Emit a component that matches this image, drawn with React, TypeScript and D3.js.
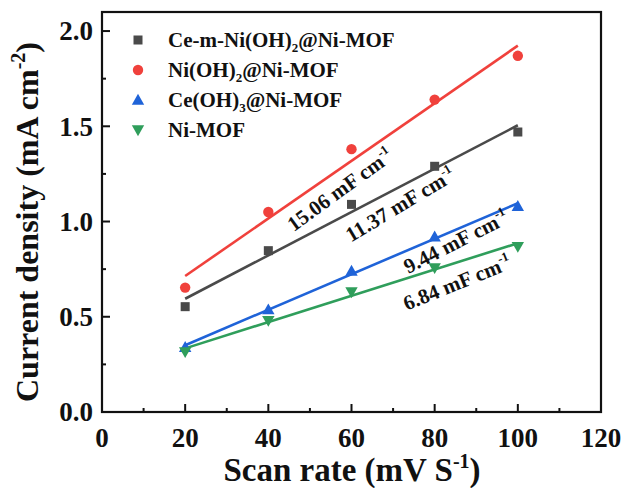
import React from "react";
import * as d3 from "d3";

const scanRates = [20, 40, 60, 80, 100];
const ceNiValues = [0.553, 0.847, 1.09, 1.29, 1.47];
const niOHValues = [0.653, 1.05, 1.38, 1.64, 1.87];
const ceOHValues = [0.34, 0.537, 0.74, 0.92, 1.08];
const niMofValues = [0.316, 0.48, 0.63, 0.757, 0.868];

const xTicks = [0, 20, 40, 60, 80, 100, 120];
const xMinor = [10, 30, 50, 70, 90, 110];
const yTicks = [0, 0.5, 1.0, 1.5, 2.0];
const yMinor = [0.25, 0.75, 1.25, 1.75];

const seriesDefs = [
  { key: "ceNi", name: ["Ce-m-Ni(OH)", "2", "@Ni-MOF"], values: ceNiValues, color: "#4a4a4a", marker: "square" },
  { key: "niOH", name: ["Ni(OH)", "2", "@Ni-MOF"], values: niOHValues, color: "#f0413c", marker: "circle" },
  { key: "ceOH", name: ["Ce(OH)", "3", "@Ni-MOF"], values: ceOHValues, color: "#1f63d8", marker: "triangle" },
  { key: "niMof", name: ["Ni-MOF", "", ""], values: niMofValues, color: "#2f9e5b", marker: "down" },
];

const annotations = [
  { text: "15.06", x: 57.2, y: 1.168, angle: -36 },
  { text: "11.37", x: 71.7, y: 1.09, angle: -31 },
  { text: "9.44", x: 85.1, y: 0.895, angle: -27 },
  { text: "6.84", x: 85.4, y: 0.68, angle: -22 },
];

function fit(xs: number[], ys: number[]) {
  const mx = d3.mean(xs)!;
  const my = d3.mean(ys)!;
  let sxy = 0, sxx = 0;
  xs.forEach((x, i) => { sxy += (x - mx) * (ys[i] - my); sxx += (x - mx) ** 2; });
  const slope = sxy / sxx;
  return { slope, intercept: my - slope * mx };
}

function Marker({ type, cx, cy, color }: { type: string; cx: number; cy: number; color: string }) {
  if (type === "square") return <rect x={cx - 4.5} y={cy - 4.5} width={9} height={9} fill={color} />;
  if (type === "circle") return <circle cx={cx} cy={cy} r={5.2} fill={color} />;
  const s = 6.2;
  if (type === "triangle")
    return <path d={`M${cx},${cy - s} L${cx + s},${cy + s * 0.75} L${cx - s},${cy + s * 0.75} Z`} fill={color} />;
  return <path d={`M${cx},${cy + s} L${cx + s},${cy - s * 0.75} L${cx - s},${cy - s * 0.75} Z`} fill={color} />;
}

export default function App() {
  const W = 627, H = 488;
  const x = d3.scaleLinear().domain([0, 120]).range([102, 601]);
  const y = d3.scaleLinear().domain([0, 2.1]).range([412, 12]);
  const font = "'Liberation Serif', 'Times New Roman', serif";
  const line = d3.line<[number, number]>().x((d) => x(d[0])).y((d) => y(d[1]));

  return (
    <svg width={W} height={H} style={{ position: "absolute", left: 0, top: 0 }} fontFamily={font} fontWeight="bold">
      <rect width={W} height={H} fill="#fff" />
      {/* fit lines */}
      {seriesDefs.map((s) => {
        const f = fit(scanRates, s.values);
        const x0 = scanRates[0], x1 = scanRates[scanRates.length - 1];
        return (
          <path key={s.key + "l"} d={line([[x0, f.intercept + f.slope * x0], [x1, f.intercept + f.slope * x1]])!}
            stroke={s.color} strokeWidth={2.6} fill="none" />
        );
      })}
      {/* markers */}
      {seriesDefs.map((s) =>
        s.values.map((v, i) => <Marker key={s.key + i} type={s.marker} cx={x(scanRates[i])} cy={y(v)} color={s.color} />)
      )}
      {/* frame */}
      <rect x={x(0)} y={y(2.1)} width={x(120) - x(0)} height={y(0) - y(2.1)} fill="none" stroke="#111" strokeWidth={2.2} />
      {/* x ticks */}
      {xTicks.map((t) => (
        <g key={"xt" + t}>
          <line x1={x(t)} x2={x(t)} y1={y(0)} y2={y(0) - 8} stroke="#111" strokeWidth={2} />
          <text x={x(t)} y={447} textAnchor="middle" fontSize={27} fill="#111">{t}</text>
        </g>
      ))}
      {xMinor.map((t) => (
        <line key={"xm" + t} x1={x(t)} x2={x(t)} y1={y(0)} y2={y(0) - 4} stroke="#111" strokeWidth={2} />
      ))}
      {yTicks.map((t) => (
        <g key={"yt" + t}>
          <line x1={x(0)} x2={x(0) + 8} y1={y(t)} y2={y(t)} stroke="#111" strokeWidth={2} />
          <text x={93} y={y(t)} dy="0.35em" textAnchor="end" fontSize={27} fill="#111">{d3.format(".1f")(t)}</text>
        </g>
      ))}
      {yMinor.map((t) => (
        <line key={"ym" + t} x1={x(0)} x2={x(0) + 4} y1={y(t)} y2={y(t)} stroke="#111" strokeWidth={2} />
      ))}
      {/* axis titles */}
      <text x={352} y={481} textAnchor="middle" fontSize={33} fill="#111">
        Scan rate (mV S<tspan fontSize={20} dy={-13}>-1</tspan><tspan dy={13}>)</tspan>
      </text>
      <text transform={`translate(38,222) rotate(-90)`} textAnchor="middle" fontSize={32} fill="#111">
        Current density (mA cm<tspan fontSize={20} dy={-13}>-2</tspan><tspan dy={13}>)</tspan>
      </text>
      {/* legend */}
      {seriesDefs.map((s, i) => {
        const cy = 40 + i * 30;
        return (
          <g key={s.key + "lg"}>
            <Marker type={s.marker} cx={138} cy={cy} color={s.color} />
            <text x={168} y={cy + 7} fontSize={21} fill="#111">
              {s.name[0]}
              {s.name[1] && <tspan fontSize={13} dy={5}>{s.name[1]}</tspan>}
              {s.name[2] && <tspan dy={s.name[1] ? -5 : 0}>{s.name[2]}</tspan>}
            </text>
          </g>
        );
      })}
      {/* annotations */}
      {annotations.map((a) => (
        <text key={a.text} transform={`translate(${x(a.x)},${y(a.y)}) rotate(${a.angle})`} textAnchor="middle" dy="0.35em"
          fontSize={21} fill="#111">
          {a.text} mF cm<tspan fontSize={13} dy={-9}>-1</tspan>
        </text>
      ))}
    </svg>
  );
}
